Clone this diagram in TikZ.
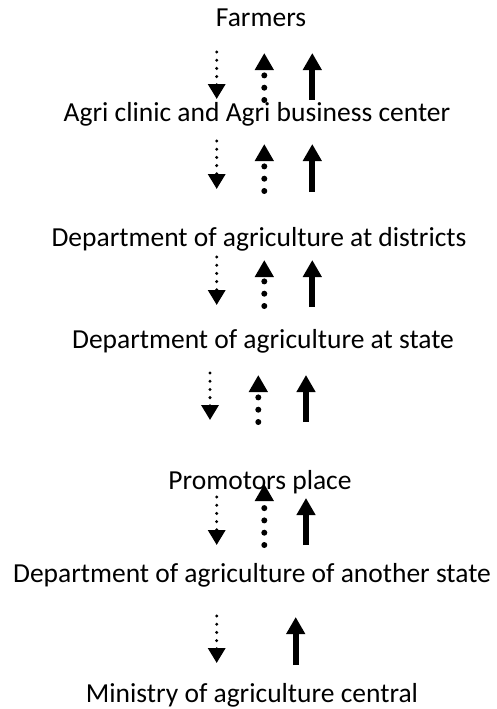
\documentclass[tikz,border=0pt]{standalone}
\usepackage{fontspec}
\setmainfont{Carlito}
\usetikzlibrary{arrows.meta}

\begin{document}
\begin{tikzpicture}[x=1pt,y=-1pt,
  level/.style={anchor=base,inner sep=0pt,font=\fontsize{27.5}{33}\selectfont},
  infodown/.style={line width=3.3pt,line cap=round,dash pattern=on 0pt off 8.2pt,-{Triangle[width=17pt,length=15pt]}},
  infoup/.style={line width=6pt,line cap=round,dash pattern=on 0pt off 12.3pt,-{Triangle[width=18pt,length=17pt]}},
  moneyup/.style={line width=6pt,-{Triangle[width=18pt,length=17pt]}}]
\useasboundingbox (0,0) rectangle (497,709);
\node[level] (farmers) at (261,27) {Farmers};
\node[level] (clinic) at (257,121) {Agri clinic and Agri business center};
\node[level] (districts) at (259,246) {Department of agriculture at districts};
\node[level] (state) at (263,348) {Department of agriculture at state};
\node[level] (promotors) at (260,489) {Promotors place};
\node[level] (another) at (252,582) {Department of agriculture of another state};
\node[level] (ministry) at (252,702) {Ministry of agriculture central};

\foreach \n/\x/\a/\b in {1/216.7/52/99,2/216.7/141/189,3/216.7/257/305,4/210/373/420,5/216.7/497/545,6/216.7/616/663}{
  \coordinate (down\n a) at (\x,\a);
  \coordinate (down\n b) at (\x,\b);
  \draw[infodown] (down\n a) -- (down\n b);
}
\foreach \n/\x/\a/\b in {1/264.3/100/53,2/264.3/191/144,3/264.3/306/260,4/258.3/422/375,5/264.3/545/484}{
  \coordinate (up\n a) at (\x,\a);
  \coordinate (up\n b) at (\x,\b);
  \draw[infoup] (up\n a) -- (up\n b);
}
\foreach \n/\x/\a/\b in {1/312.3/100/53,2/312.3/192/144,3/312.3/307/260,4/306/422/375,5/306/545/498,6/295.7/665/617}{
  \coordinate (solid\n a) at (\x,\a);
  \coordinate (solid\n b) at (\x,\b);
  \draw[moneyup] (solid\n a) -- (solid\n b);
}
\end{tikzpicture}
\end{document}
